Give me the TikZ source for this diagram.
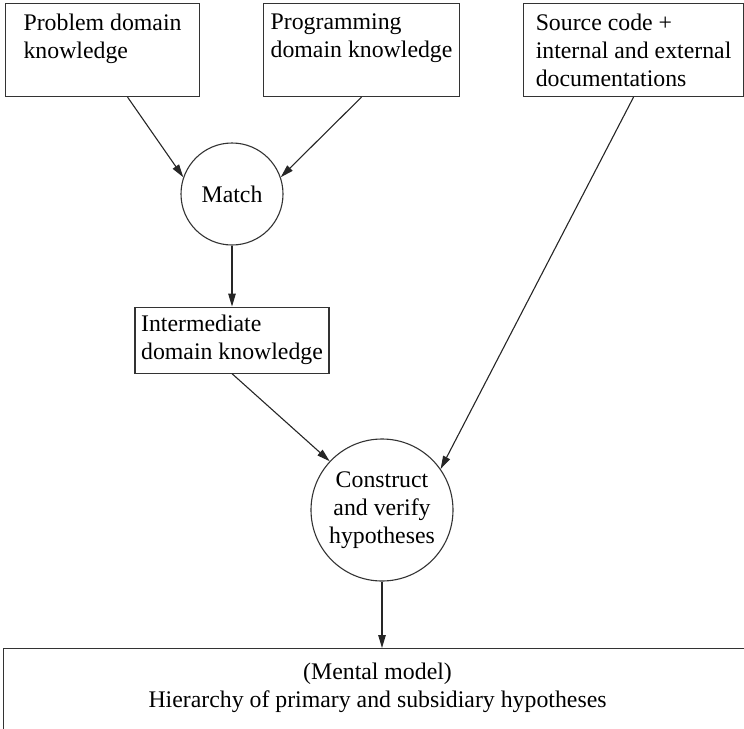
\documentclass[tikz,border=0pt]{standalone}
\usepackage{fontspec}
\setmainfont{Liberation Serif}
\usetikzlibrary{arrows.meta, positioning}

\begin{document}
\begin{tikzpicture}[
  x=1pt, y=-1pt,
  font=\fontsize{23.8}{28}\selectfont,
  box/.style={draw=black!80, line width=1.1pt, align=left, anchor=north west,
    inner xsep=6pt, inner ysep=10pt, minimum width=#1},
  hub/.style={draw=black!80, line width=1.1pt, circle, align=center,
    inner sep=0pt, minimum size=#1},
  arr/.style={-{Triangle[length=13pt, width=7.5pt]}, line width=1.1pt, black!85},
]
\useasboundingbox (0,0) rectangle (744,728);
\clip (0,0) rectangle (744,728);

% Top row: the three sources of knowledge
\node[box=194pt, minimum height=93pt] (prob) at (5,3)
  {Problem domain\\knowledge\\\mbox{}};
\node[box=196pt, minimum height=93pt] (prog) at (263,3)
  {Programming\\domain knowledge\\\mbox{}};
\node[box=220pt, minimum height=93pt] (src) at (523,3)
  {Source code +\\internal and external\\documentations};

% Matching step and its result
\node[hub=102pt] (match) at (232,194) {Match};
\node[box=194pt, minimum height=66pt, inner ysep=8pt, below=61pt of match] (inter)
  {Intermediate\\domain knowledge};

% Hypothesis step
\node[hub=142pt] (cons) at (382,510) {Construct\\and verify\\hypotheses};

% Bottom: the mental model (runs past the page edge)
\node[draw=black!80, line width=1.1pt, anchor=north west, inner sep=0pt,
  minimum width=748pt, minimum height=100pt] (model) at (3,648) {};
\node[align=center, inner sep=0pt, below=15pt of model.north] (modeltext)
  {(Mental model)\\Hierarchy of primary and subsidiary hypotheses};

% Connectors
\draw[arr] ([xshift=25pt]prob.south) -- (match.161);
\draw[arr] (prog.south) -- (match.19);
\draw[arr] (match.south) -- (inter.north);
\draw[arr] (inter.south) -- (cons.137);
\draw[arr] (src.south) -- (cons.35);
\draw[arr] (cons.south) -- (cons.south |- model.north);
\end{tikzpicture}
\end{document}
